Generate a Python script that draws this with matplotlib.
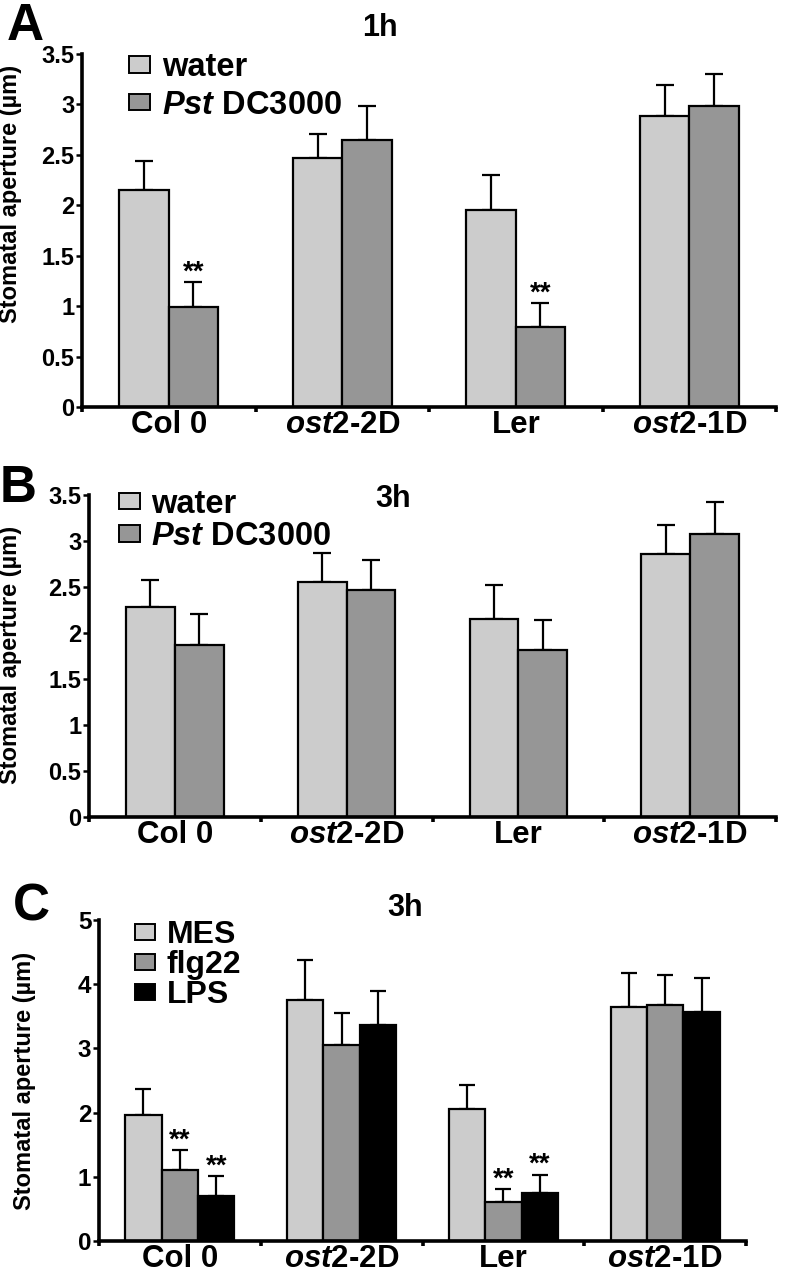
import matplotlib
matplotlib.use("Agg")
import matplotlib.pyplot as plt
import numpy as np
from matplotlib.patches import Patch

plt.rcParams['font.family'] = ['Liberation Sans', 'DejaVu Sans']
plt.rcParams['font.weight'] = 'bold'
plt.rcParams['mathtext.fontset'] = 'custom'
plt.rcParams['mathtext.rm'] = 'Liberation Sans:bold'
plt.rcParams['mathtext.bf'] = 'Liberation Sans:bold'
plt.rcParams['mathtext.it'] = 'Liberation Sans:italic:bold'
plt.rcParams['mathtext.bfit'] = 'Liberation Sans:italic:bold'

# ---------------- data ----------------
genotypes = ["Col 0", r"$\mathbfit{ost}$2-2D", "Ler", r"$\mathbfit{ost}$2-1D"]

# Panel A (1h)
a_water = [2.15, 2.47, 1.95, 2.89]
a_water_err = [0.29, 0.24, 0.35, 0.30]
a_pst = [0.99, 2.65, 0.79, 2.98]
a_pst_err = [0.25, 0.33, 0.24, 0.32]
a_sig_pst = [True, False, True, False]

# Panel B (3h)
b_water = [2.28, 2.55, 2.15, 2.86]
b_water_err = [0.30, 0.32, 0.37, 0.31]
b_pst = [1.87, 2.47, 1.82, 3.08]
b_pst_err = [0.34, 0.32, 0.32, 0.34]

# Panel C (3h)
c_mes = [1.97, 3.75, 2.05, 3.65]
c_mes_err = [0.40, 0.63, 0.38, 0.53]
c_flg = [1.10, 3.06, 0.60, 3.68]
c_flg_err = [0.31, 0.49, 0.21, 0.46]
c_lps = [0.70, 3.37, 0.74, 3.57]
c_lps_err = [0.31, 0.53, 0.29, 0.52]
c_sig_flg = [True, False, True, False]
c_sig_lps = [True, False, True, False]

labels_ab = ["water", r"$\mathbfit{Pst}$ DC3000"]
labels_c = ["MES", "flg22", "LPS"]

LIGHT = "#cccccc"
MID = "#969696"
DARK = "#000000"

W, H = 786, 1279
fig = plt.figure(figsize=(W / 100, H / 100), dpi=100)

def px_axes(x0, x1, ytop, ybot):
    return fig.add_axes([x0 / W, 1 - ybot / H, (x1 - x0) / W, (ybot - ytop) / H])

axA = px_axes(82, 776, 54, 407)
axB = px_axes(89, 776, 495, 817)
axC = px_axes(99, 746, 920, 1241)


def style_axis(ax, ymax, yticks, yticklabels, tick_fs):
    n = len(genotypes)
    ax.set_xlim(0, n)
    ax.set_ylim(0, ymax)
    for s in ["top", "right"]:
        ax.spines[s].set_visible(False)
    for s in ["left", "bottom"]:
        ax.spines[s].set_linewidth(2.6)
    ax.set_yticks(yticks)
    ax.set_yticklabels(yticklabels, fontsize=tick_fs, fontweight='bold')
    ax.tick_params(axis='y', length=4.5, width=1.8, pad=1)
    ax.set_xticks(np.arange(n) + 0.5)
    ax.set_xticklabels(genotypes, fontsize=22.5, fontweight='bold')
    ax.tick_params(axis='x', which='major', length=0, pad=2)
    ax.set_xticks(np.arange(n + 1), minor=True)
    ax.tick_params(axis='x', which='minor', length=3.5, width=2.6)


def bars_with_err(ax, x, vals, errs, color, width, capsize):
    ax.bar(x, vals, width=width, color=color, edgecolor='black', linewidth=1.6, zorder=2)
    ax.errorbar(x, vals, yerr=[np.zeros(len(vals)), errs], fmt='none', ecolor='black',
                elinewidth=1.6, capsize=capsize, capthick=1.6, zorder=1)


def stars(ax, x, vals, errs, flags):
    for xi, v, e, f in zip(x, vals, errs, flags):
        if f:
            ax.annotate("**", (xi, v + e), xytext=(0, 2), textcoords='offset points',
                        ha='center', va='baseline', fontsize=20, fontweight='bold')


yt_ab = [0, 0.5, 1, 1.5, 2, 2.5, 3, 3.5]
ytl_ab = ["0", "0.5", "1", "1.5", "2", "2.5", "3", "3.5"]

centers = np.arange(len(genotypes)) + 0.5
w2 = 0.284

# ---- Panel A ----
bars_with_err(axA, centers - w2 / 2, a_water, a_water_err, LIGHT, w2, 6.5)
bars_with_err(axA, centers + w2 / 2, a_pst, a_pst_err, MID, w2, 6.5)
stars(axA, centers + w2 / 2, a_pst, a_pst_err, a_sig_pst)
style_axis(axA, 3.5, yt_ab, ytl_ab, 17)

# ---- Panel B ----
bars_with_err(axB, centers - w2 / 2, b_water, b_water_err, LIGHT, w2, 6.5)
bars_with_err(axB, centers + w2 / 2, b_pst, b_pst_err, MID, w2, 6.5)
style_axis(axB, 3.5, yt_ab, ytl_ab, 17)

# ---- Panel C ----
w3 = 0.225
bars_with_err(axC, centers - w3, c_mes, c_mes_err, LIGHT, w3, 5.5)
bars_with_err(axC, centers, c_flg, c_flg_err, MID, w3, 5.5)
bars_with_err(axC, centers + w3, c_lps, c_lps_err, DARK, w3, 5.5)
stars(axC, centers, c_flg, c_flg_err, c_sig_flg)
stars(axC, centers + w3, c_lps, c_lps_err, c_sig_lps)
style_axis(axC, 5, [0, 1, 2, 3, 4, 5], ["0", "1", "2", "3", "4", "5"], 17.5)


def make_legend(ax, colors, labels, anchor, spacing, size):
    handles = [Patch(facecolor=c, edgecolor='black', linewidth=1.4) for c in colors]
    leg = ax.legend(handles, labels, loc='upper left', bbox_to_anchor=anchor,
                    frameon=False, borderpad=0, borderaxespad=0,
                    handlelength=0.65, handleheight=0.4, handletextpad=0.35,
                    labelspacing=spacing,
                    prop={'family': 'Liberation Sans', 'weight': 'bold', 'size': size})
    return leg

make_legend(axA, [LIGHT, MID], labels_ab, (0.068, 1.005), 0.2, 23.5)
make_legend(axB, [LIGHT, MID], labels_ab, (0.043, 1.02), 0.05, 23.5)
make_legend(axC, [LIGHT, MID, DARK], labels_c, (0.055, 1.0), 0.0, 23)

# ---- y labels ----
for ax, (lx, ly) in zip([axA, axB, axC], [(-0.0865, 0.603), (-0.0975, 0.503), (-0.097, 0.50)]):
    ax.set_ylabel("Stomatal aperture (µm)", fontsize=17, fontweight='bold')
    ax.yaxis.set_label_coords(lx, ly)

# ---- titles and panel letters ----
fig.text(380 / W, 1 - 28 / H, "1h", ha='center', va='center', fontsize=22, fontweight='bold')
fig.text(393 / W, 1 - 499 / H, "3h", ha='center', va='center', fontsize=22, fontweight='bold')
fig.text(405 / W, 1 - 908 / H, "3h", ha='center', va='center', fontsize=22, fontweight='bold')

fig.text(25 / W, 1 - 26 / H, "A", ha='center', va='center', fontsize=37, fontweight='bold')
fig.text(18 / W, 1 - 488 / H, "B", ha='center', va='center', fontsize=37, fontweight='bold')
fig.text(31 / W, 1 - 907 / H, "C", ha='center', va='center', fontsize=37, fontweight='bold')

fig.savefig("out.png", dpi=100)
